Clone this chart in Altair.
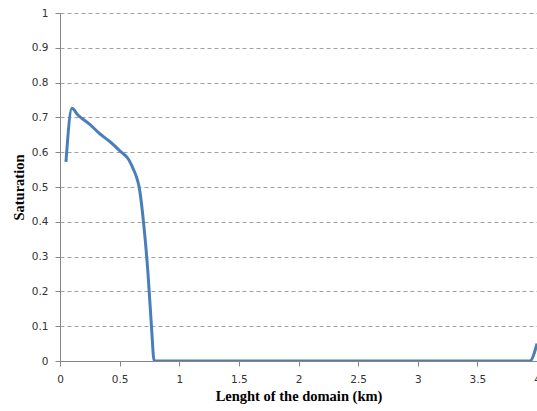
import altair as alt
import pandas as pd

length_km = [0.05, 0.10, 0.15, 0.25, 0.334, 0.42, 0.514, 0.57, 0.613, 0.645, 0.663, 0.70, 0.738, 0.767, 0.79, 3.94, 4.0]
saturation = [0.572, 0.726, 0.707, 0.680, 0.653, 0.630, 0.600, 0.582, 0.553, 0.525, 0.501, 0.400, 0.251, 0.099, 0.0, 0.0, 0.05]

df = pd.DataFrame({"x": length_km, "y": saturation})

x_ticks = [0, 0.5, 1, 1.5, 2, 2.5, 3, 3.5, 4]
y_ticks = [0, 0.1, 0.2, 0.3, 0.4, 0.5, 0.6, 0.7, 0.8, 0.9, 1]

chart = alt.Chart(df).mark_line(
    color="#4A7EBB", strokeWidth=3, interpolate="monotone", clip=True
).encode(
    x=alt.X("x:Q", scale=alt.Scale(domain=[0, 4], nice=False, zero=False),
            axis=alt.Axis(values=x_ticks, title="Lenght of the domain (km)", grid=False,
                          labelExpr="toString(datum.value)")),
    y=alt.Y("y:Q", scale=alt.Scale(domain=[0, 1], nice=False),
            axis=alt.Axis(values=y_ticks, title="Saturation", grid=True,
                          gridDash=[4, 3], gridColor="#A0A0A0",
                          labelExpr="toString(datum.value)")),
).properties(
    width=477, height=348,
    autosize=alt.AutoSizeParams(type="none"),
    padding={"left": 60, "top": 13, "right": 0, "bottom": 50},
).configure_view(
    stroke=None
).configure_axis(
    domainColor="#868686", tickColor="#868686", tickSize=5,
    labelFont="DejaVu Sans", labelFontSize=10.5, labelColor="#333333",
    titleFont="Liberation Serif", titleFontSize=14.5, titleFontWeight="bold",
    titleColor="#000000",
).configure_axisX(
    labelPadding=8, titlePadding=5, labelFlush=False
).configure_axisY(
    labelPadding=7, titlePadding=5
)

chart.save("out.html", embed_options={"renderer": "svg", "actions": False})
